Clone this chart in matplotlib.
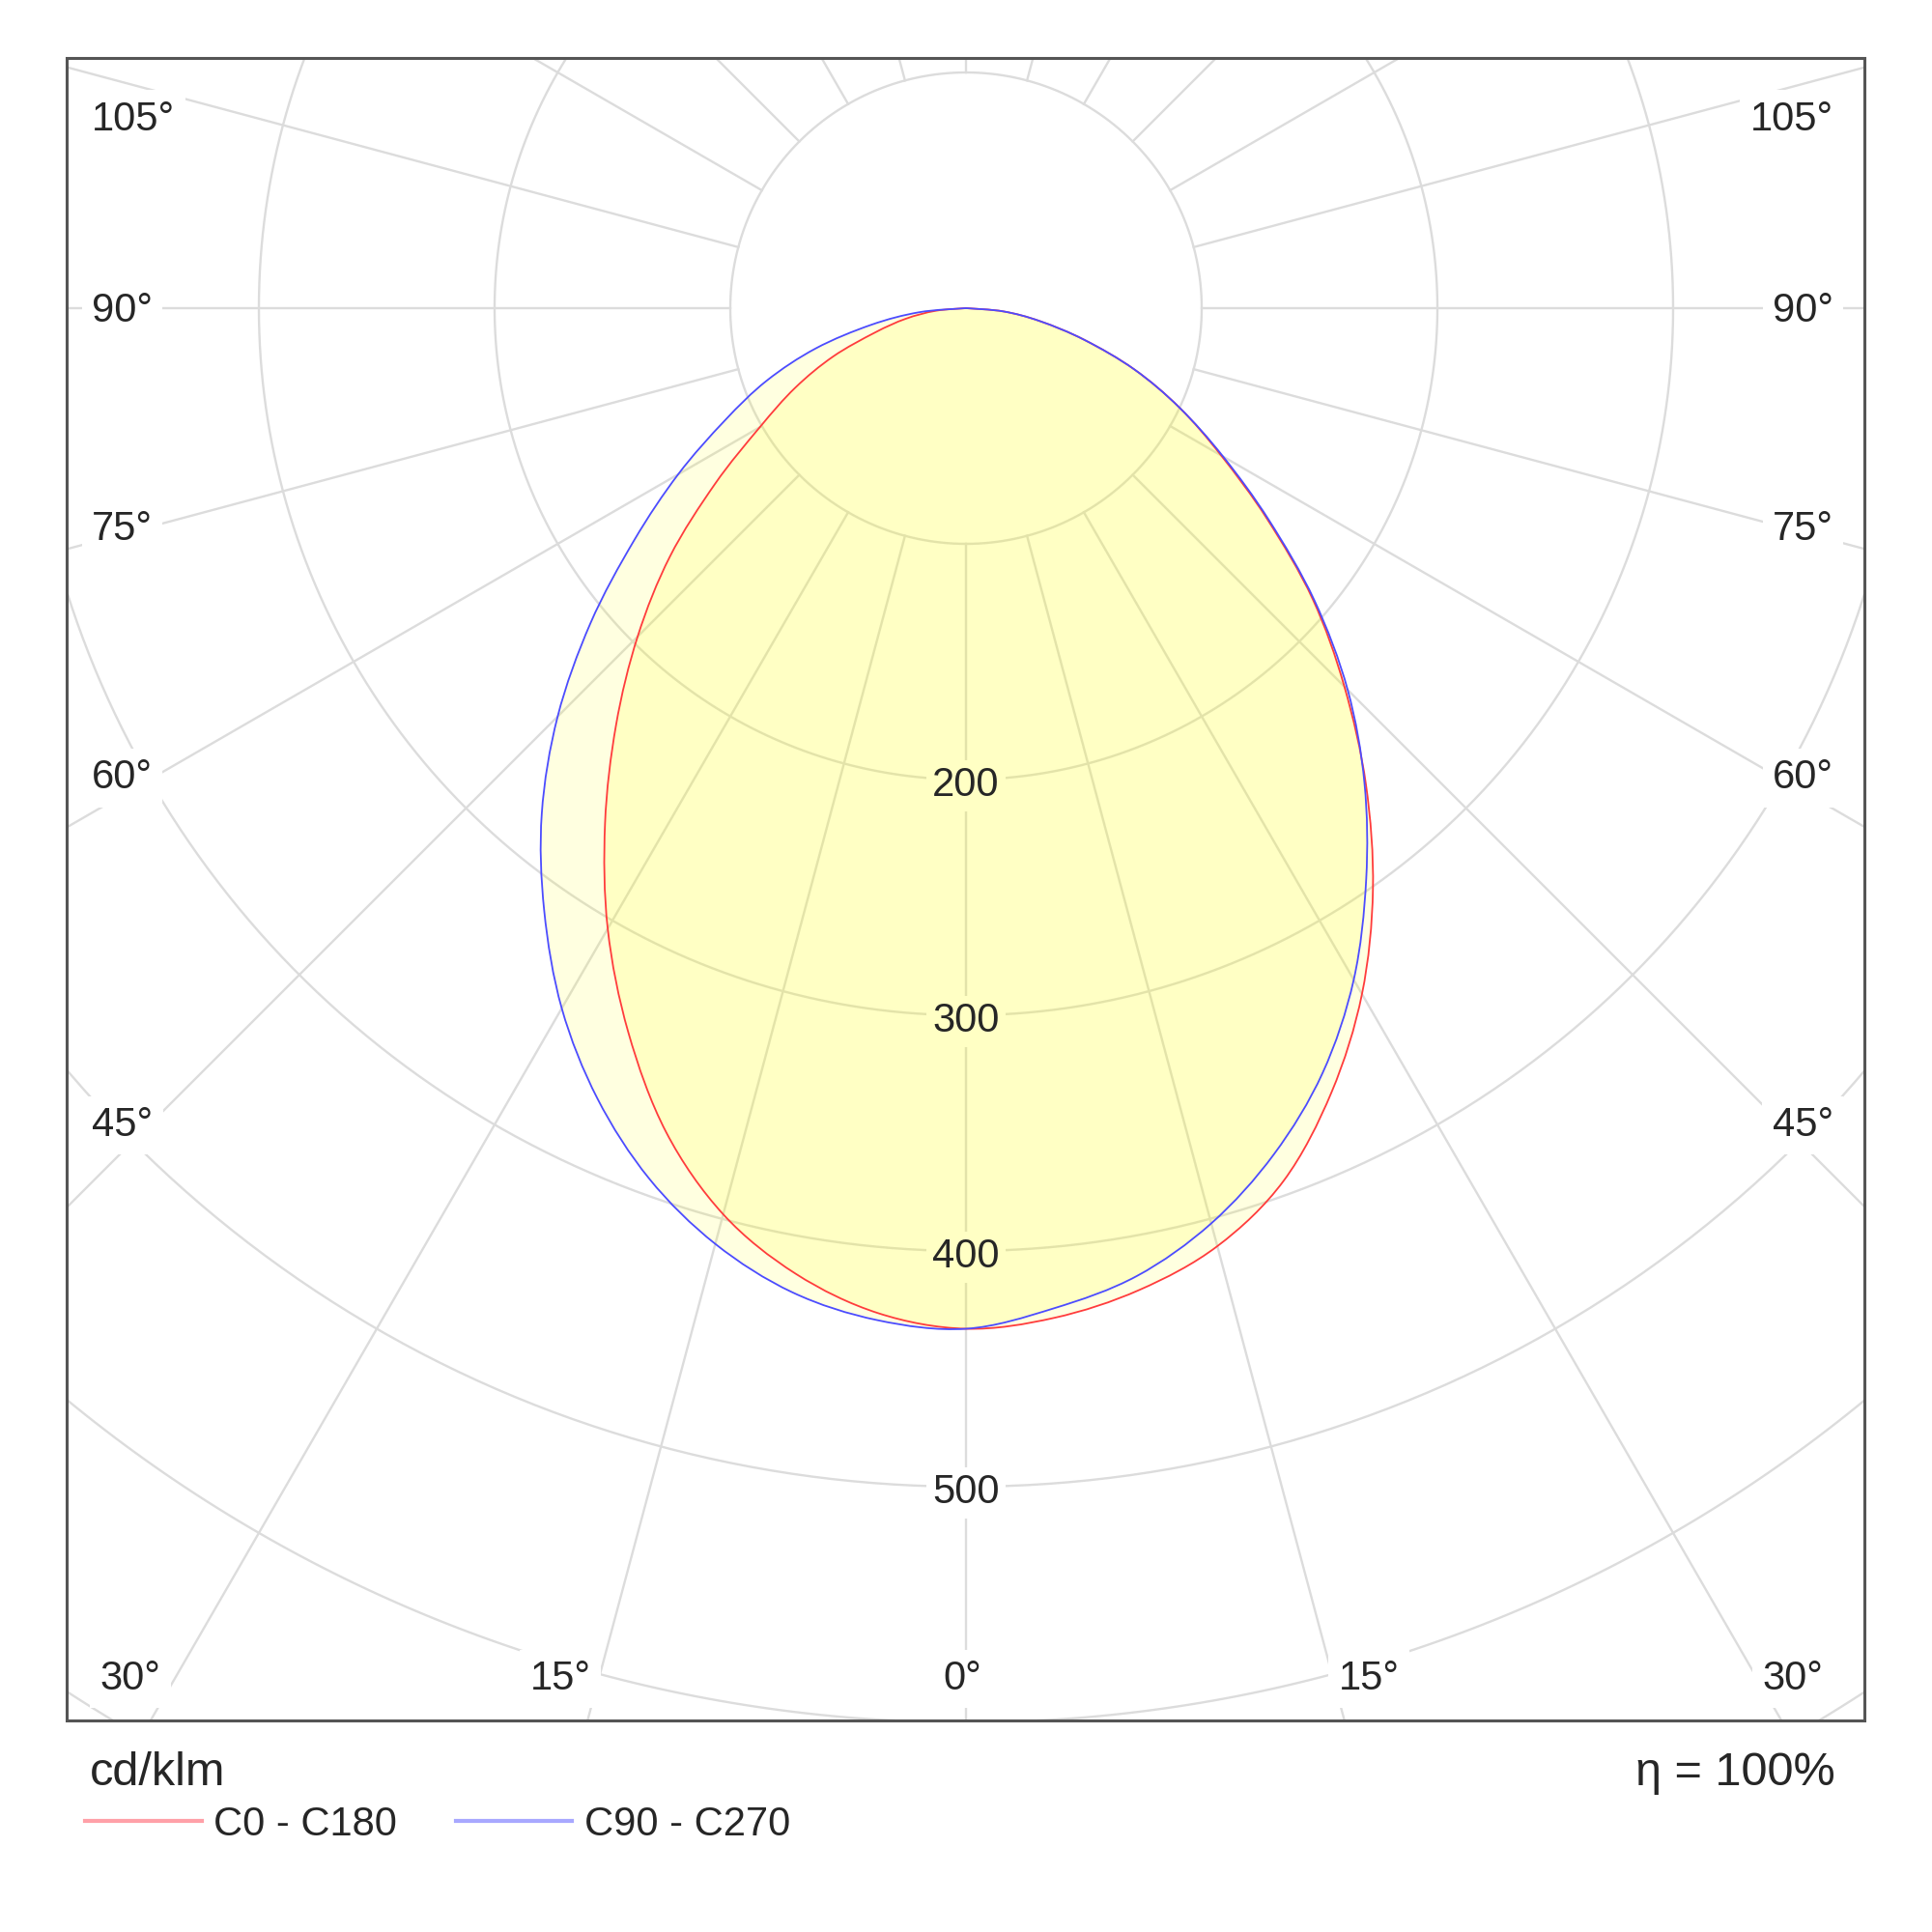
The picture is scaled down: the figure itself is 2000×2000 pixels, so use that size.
import numpy as np
import matplotlib
matplotlib.use('Agg')
import matplotlib.pyplot as plt
from matplotlib.patches import Rectangle, PathPatch
from matplotlib.path import Path
from matplotlib.lines import Line2D
from matplotlib.transforms import offset_copy

plt.rcParams['font.family'] = ['Liberation Sans', 'DejaVu Sans']

# gamma angle of one half plane, 0 = straight down, 90 = horizontal
gamma = [0, 5, 10, 15, 20, 25, 30, 35, 40, 45, 50, 55, 60, 65, 70, 75, 80, 85, 90]

# intensities in cd/klm
c0 = [433, 430, 423, 412, 394, 367, 336, 301, 264, 227, 192, 156, 125, 100, 76, 52, 32, 16, 0]    # right, red
c180 = [433, 428, 416, 398, 372, 339, 304, 267, 231, 197, 164, 130, 101, 80, 60, 40, 26, 13, 0]  # left, red
c90 = [433, 426, 417, 402, 382, 358, 329, 296, 263, 229, 193, 157, 126, 100, 76, 52, 32, 16, 0]   # right, blue
c270 = [433, 431, 424, 411, 393, 370, 343, 312, 280, 245, 208, 172, 141, 113, 90, 66, 41, 20, 0]  # left, blue

rings = [100, 200, 300, 400, 500, 600, 700]
ring_labels = [200, 300, 400, 500]
spokes = list(range(0, 360, 15))

side_labels = ['105°', '90°', '75°', '60°', '45°']
bottom_labels = ['30°', '15°', '0°', '15°', '30°']

grid_col = '#dcdcdc'
text_col = '#262626'

fig = plt.figure(figsize=(20, 20), dpi=100)

# polar axes much bigger than the frame, centre near the top
r_max = 720
px_per_unit = 2.44
cx, cy = 0.5, 0.8405
half = r_max * px_per_unit / 2000
ax = fig.add_axes([cx - half, cy - half, 2 * half, 2 * half], projection='polar')
ax.set_theta_zero_location('S')
ax.set_theta_direction(1)
ax.set_ylim(0, r_max)
ax.grid(False)
ax.set_xticks([])
ax.set_yticks([])
ax.spines['polar'].set_visible(False)
ax.patch.set_visible(False)

# polar data -> cartesian plane of the axes, and the affine rest of transData
to_cart = ax.transScale + ax.transShift + ax.transProjection
cart_tr = ax.transProjectionAffine + ax.transWedge + ax.transAxes


def smooth_path(t, r):
    # Catmull-Rom through the measured points (in the cartesian plane)
    pts = to_cart.transform(np.column_stack([t, r]))
    ext = np.vstack([pts[0], pts, pts[-1]])
    verts = [pts[0]]
    codes = [Path.MOVETO]
    for i in range(len(pts) - 1):
        p0, p1, p2, p3 = ext[i], ext[i + 1], ext[i + 2], ext[i + 3]
        verts += [p1 + (p2 - p0) / 6, p2 - (p3 - p1) / 6, p2]
        codes += [Path.CURVE4] * 3
    return Path(verts, codes)


# grid
th = np.linspace(0, 2 * np.pi, 721)
for r in rings:
    ax.plot(th, np.full_like(th, r), color=grid_col, lw=1.7, zorder=1)
for a in spokes:
    ax.plot([np.radians(a)] * 2, [100, r_max], color=grid_col, lw=1.7, zorder=1)

# ring values: white box under the fill, digits above it
lab_tr = offset_copy(ax.transData, fig=fig, x=0, y=-12.5, units='points')
for v in ring_labels:
    ax.text(0, v, str(v), transform=lab_tr, ha='center', va='baseline', fontsize=30,
            color='none', zorder=1.5, bbox=dict(boxstyle='square,pad=0.15', fc='white', ec='none'))
    ax.text(0, v, str(v), transform=lab_tr, ha='center', va='baseline', fontsize=30,
            color=text_col, zorder=4)

# curves: left half plane then right half plane
g = np.radians(gamma)
theta = np.concatenate([-g[::-1], g[1:]])
red = np.concatenate([np.array(c180)[::-1], np.array(c0)[1:]])
blue = np.concatenate([np.array(c270)[::-1], np.array(c90)[1:]])

for vals, col in [(red, '#ff3c3c'), (blue, '#4c4cff')]:
    path = smooth_path(theta, vals)
    ax.add_patch(PathPatch(path, transform=cart_tr, fc='#ffff00', ec='none',
                           alpha=0.12, zorder=2))
    ax.add_patch(PathPatch(path, transform=cart_tr, fc='none', ec=col, lw=1.3, zorder=3))

# clip everything to the frame
x0, y0 = 69 / 2000, 1 - 1781 / 2000
w, h = (1930 - 69) / 2000, (1781 - 60) / 2000
clip = Rectangle((x0, y0), w, h, transform=fig.transFigure)
for art in list(ax.lines) + list(ax.patches) + list(ax.texts):
    art.set_clip_path(clip)

fig.add_artist(Rectangle((x0, y0), w, h, transform=fig.transFigure, fill=False,
                         ec='#555555', lw=2.2, zorder=5))

# angle labels
box = dict(boxstyle='square,pad=0.25', fc='white', ec='none')
side_y = [0.9326, 0.8337, 0.7205, 0.5918, 0.412]
for lab, yy in zip(side_labels, side_y):
    fig.text(0.0475, yy, lab, ha='left', va='baseline', fontsize=30, color=text_col, bbox=box, zorder=4)
    fig.text(0.949, yy, lab, ha='right', va='baseline', fontsize=30, color=text_col, bbox=box, zorder=4)
bottom_x = [0.0676, 0.29, 0.498, 0.7086, 0.928]
for lab, xx in zip(bottom_labels, bottom_x):
    fig.text(xx, 0.1255, lab, ha='center', va='baseline', fontsize=30, color=text_col, bbox=box, zorder=4)

fig.text(0.0465, 0.076, 'cd/klm', ha='left', va='baseline', fontsize=35, color=text_col)
fig.text(0.95, 0.076, 'η = 100%', ha='right', va='baseline', fontsize=35, color=text_col)

handles = [Line2D([], [], color='#ffa0a8', lw=3, label='C0 - C180'),
           Line2D([], [], color='#a8a8ff', lw=3, label='C90 - C270')]
fig.legend(handles=handles, loc='center left', bbox_to_anchor=(0.044, 0.0555), ncol=2,
           frameon=False, fontsize=30, handlelength=2.9, handletextpad=0.3,
           columnspacing=1.45, borderpad=0, borderaxespad=0, labelcolor=text_col)

fig.savefig('out.png', dpi=100, facecolor='white')
